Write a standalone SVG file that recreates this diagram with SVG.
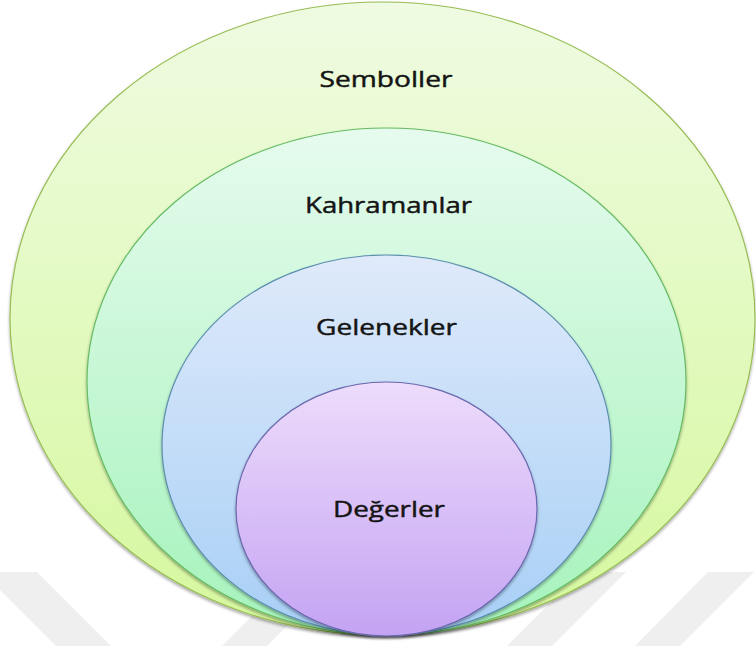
<svg xmlns="http://www.w3.org/2000/svg" width="756" height="646" viewBox="0 0 756 646">
  <style>
    .lbl { font-family: "Open Sans", "Noto Sans", "Liberation Sans", sans-serif; font-size: 22px; font-weight: 500; fill: #141414; stroke: #141414; stroke-width: 0.45; text-anchor: middle; }
    .wm { fill: #efefef; }
    .ring { stroke-width: 1.2; filter: url(#sh); }
  </style>
  <defs>
    <linearGradient id="g1" x1="0" y1="0" x2="0" y2="1">
      <stop offset="0" stop-color="#effbe2"/>
      <stop offset="1" stop-color="#d6f89e"/>
    </linearGradient>
    <linearGradient id="g2" x1="0" y1="0" x2="0" y2="1">
      <stop offset="0" stop-color="#e6fbee"/>
      <stop offset="1" stop-color="#a5f3bb"/>
    </linearGradient>
    <linearGradient id="g3" x1="0" y1="0" x2="0" y2="1">
      <stop offset="0" stop-color="#dfeafa"/>
      <stop offset="1" stop-color="#a7cff6"/>
    </linearGradient>
    <linearGradient id="g4" x1="0" y1="0" x2="0" y2="1">
      <stop offset="0" stop-color="#eddcfb"/>
      <stop offset="1" stop-color="#c4a3f3"/>
    </linearGradient>
    <filter id="sh" x="-5%" y="-5%" width="110%" height="112%">
      <feDropShadow dx="0" dy="2" stdDeviation="1.5" flood-color="#000" flood-opacity="0.35"/>
    </filter>
  </defs>

  <g id="watermark">
    <polygon class="wm" points="-18,572 37,572 111,646 56,646"/>
    <polygon class="wm" points="222,646 267,646 341,572 296,572"/>
    <polygon class="wm" points="507,646 552,646 626,572 581,572"/>
    <polygon class="wm" points="635,646 680,646 754,572 708,572"/>
  </g>

  <g id="semboller">
    <ellipse class="ring" cx="382.5" cy="318.5" rx="372.5" ry="316.5" fill="url(#g1)" stroke="#98bd55"/>
    <text class="lbl" x="386" y="87" textLength="133" lengthAdjust="spacingAndGlyphs">Semboller</text>
  </g>
  <g id="kahramanlar">
    <ellipse class="ring" cx="386.5" cy="381.5" rx="299.5" ry="253.5" fill="url(#g2)" stroke="#66bb62"/>
    <text class="lbl" x="388.5" y="213" textLength="167" lengthAdjust="spacingAndGlyphs">Kahramanlar</text>
  </g>
  <g id="gelenekler">
    <ellipse class="ring" cx="386.5" cy="445" rx="224.5" ry="190" fill="url(#g3)" stroke="#5b8fae"/>
    <text class="lbl" x="386.5" y="335" textLength="141" lengthAdjust="spacingAndGlyphs">Gelenekler</text>
  </g>
  <g id="degerler">
    <ellipse class="ring" cx="386.5" cy="509" rx="150.5" ry="127" fill="url(#g4)" stroke="#6a68ae"/>
    <text class="lbl" x="389" y="517" textLength="112" lengthAdjust="spacingAndGlyphs">Değerler</text>
  </g>

  <g id="connectors"/>
</svg>
